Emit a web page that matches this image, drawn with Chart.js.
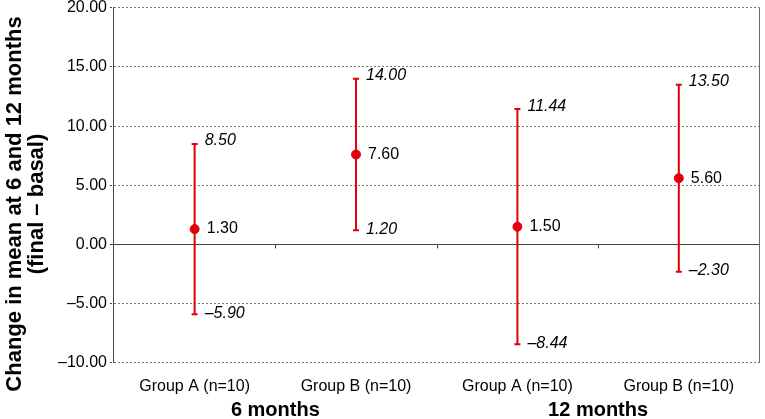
<!DOCTYPE html>
<html>
<head>
<meta charset="utf-8">
<script src="https://cdn.jsdelivr.net/npm/chart.js@4.4.0/dist/chart.umd.min.js"></script>
<style>
    html, body { margin: 0; padding: 0; background: #fff; }
    #wrap { width: 765px; height: 419px; }
</style>
</head>
<body>
<div id="wrap"><canvas id="graficaCambio"></canvas></div>
<script>
const categories = ['Group A (n=10)', 'Group B (n=10)', 'Group A (n=10)', 'Group B (n=10)'];
const periods = ['6 months', '12 months'];
const means = [1.30, 7.60, 1.50, 5.60];
const upper = [8.50, 14.00, 11.44, 13.50];
const lower = [-5.90, 1.20, -8.44, -2.30];
const yTicks = [20, 15, 10, 5, 0, -5, -10];
const yTitle = ['Change in mean at 6 and 12 months', '(final \u2013 basal)'];

const rojo = '#e0000b';
const fuente = 'Arial, "Liberation Sans", sans-serif';

function fmt(v) {
    return v.toFixed(2).replace('-', '\u2013');
}

// error bars, value labels, separators, period labels, right border, y title
const extras = {
    id: 'extras',
    beforeDatasetsDraw(chart) {
        const ctx = chart.ctx;
        const x = chart.scales.x;
        const y = chart.scales.y;
        ctx.save();
        ctx.strokeStyle = rojo;
        ctx.lineWidth = 2;
        means.forEach((m, i) => {
            const px = x.getPixelForValue(i);
            const yt = y.getPixelForValue(upper[i]);
            const yb = y.getPixelForValue(lower[i]);
            ctx.beginPath();
            ctx.moveTo(px, yt);
            ctx.lineTo(px, yb);
            ctx.moveTo(px - 3, yt);
            ctx.lineTo(px + 3, yt);
            ctx.moveTo(px - 3, yb);
            ctx.lineTo(px + 3, yb);
            ctx.stroke();
        });
        ctx.restore();
    },
    afterDatasetsDraw(chart) {
        const ctx = chart.ctx;
        const x = chart.scales.x;
        const y = chart.scales.y;
        const area = chart.chartArea;
        ctx.save();
        ctx.fillStyle = '#000';
        ctx.textAlign = 'left';
        ctx.textBaseline = 'middle';
        means.forEach((m, i) => {
            const px = x.getPixelForValue(i);
            ctx.font = '16px ' + fuente;
            ctx.fillText(fmt(m), px + 12, y.getPixelForValue(m));
            ctx.font = 'italic 16px ' + fuente;
            ctx.fillText(fmt(upper[i]), px + 10, y.getPixelForValue(upper[i]) - 3);
            ctx.fillText(fmt(lower[i]), px + 10, y.getPixelForValue(lower[i]) - 1);
        });

        // category separators on the zero line
        const y0 = y.getPixelForValue(0);
        ctx.strokeStyle = '#444';
        ctx.lineWidth = 1;
        for (let i = 0; i < categories.length - 1; i++) {
            const sx = Math.round((x.getPixelForValue(i) + x.getPixelForValue(i + 1)) / 2) + 0.5;
            ctx.beginPath();
            ctx.moveTo(sx, y0);
            ctx.lineTo(sx, y0 + 4);
            ctx.stroke();
        }

        // right border
        ctx.strokeStyle = '#666';
        ctx.beginPath();
        ctx.moveTo(Math.round(area.right) - 0.5, area.top);
        ctx.lineTo(Math.round(area.right) - 0.5, area.bottom);
        ctx.stroke();

        // period labels
        ctx.font = 'bold 20px ' + fuente;
        ctx.textAlign = 'center';
        periods.forEach((p, k) => {
            const cx = (x.getPixelForValue(2 * k) + x.getPixelForValue(2 * k + 1)) / 2;
            ctx.fillText(p, cx, 410);
        });

        // y axis title
        ctx.translate(0, 204);
        ctx.rotate(-Math.PI / 2);
        ctx.font = 'bold 22px ' + fuente;
        ctx.fillText(yTitle[0], 0, 15);
        ctx.fillText(yTitle[1], 0, 37);
        ctx.restore();
    }
};

const canvas = document.getElementById('graficaCambio');

new Chart(canvas, {
    type: 'line',
    data: {
        labels: categories,
        datasets: [{
            data: means,
            showLine: false,
            pointRadius: 4.5,
            pointHoverRadius: 4.5,
            pointBackgroundColor: rojo,
            pointBorderColor: rojo,
            borderColor: rojo
        }]
    },
    options: {
        responsive: true,
        maintainAspectRatio: false,
        animation: false,
        layout: {
            padding: { top: 0, right: 2, bottom: 9, left: 55 }
        },
        plugins: {
            legend: { display: false },
            tooltip: { enabled: false }
        },
        scales: {
            x: {
                offset: true,
                grid: { display: false, drawTicks: false },
                border: { display: false },
                ticks: {
                    color: '#000',
                    padding: 14,
                    maxRotation: 0,
                    font: { family: fuente, size: 16 }
                }
            },
            y: {
                min: -10,
                max: 20,
                afterBuildTicks: (axis) => {
                    axis.ticks = yTicks.map((v) => ({ value: v }));
                },
                grid: {
                    color: (c) => (c.tick && c.tick.value === 0 ? '#444' : '#777'),
                    tickColor: '#444',
                    tickLength: 4,
                    tickBorderDash: (c) => (c.tick && c.tick.value === 0 ? [] : [2, 2])
                },
                border: {
                    display: true,
                    color: '#444',
                    dash: (c) => (c.tick && c.tick.value !== 0 ? [2, 2] : [])
                },
                ticks: {
                    color: '#000',
                    padding: 3,
                    font: { family: fuente, size: 16, lineHeight: 0.6 },
                    callback: (v) => fmt(v)
                }
            }
        }
    },
    plugins: [extras]
});
</script>
</body>
</html>
